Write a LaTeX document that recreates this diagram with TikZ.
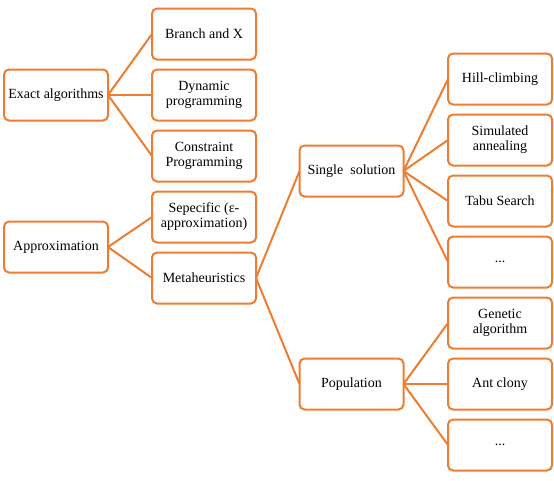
\documentclass[tikz,border=0pt]{standalone}
\usepackage{fontspec}
\setmainfont{Liberation Serif}
\usepackage{xcolor}
\usetikzlibrary{positioning}
\definecolor{treeorange}{RGB}{237,125,49}

\begin{document}
\begin{tikzpicture}[
    x=1pt,y=-1pt,
    node distance=10pt,
    box/.style={rectangle,rounded corners=5pt,draw=treeorange,fill=white,line width=2pt,
      outer sep=0pt,minimum width=104pt,minimum height=51pt,align=center,inner sep=2pt,
      font=\rmfamily\fontsize{14}{15}\selectfont},
    link/.style={draw=treeorange,line width=2pt}
  ]
    \useasboundingbox (0,0) rectangle (554,480);
    % roots
    \node[box] (exact) at (56,95) {Exact algorithms};
    \node[box] (approx) at (56,247) {Approximation};
    % second column
    \node[box,right=44pt of exact] (dynprog) {Dynamic\\programming};
    \node[box,above=of dynprog] (branch) {Branch and X};
    \node[box,below=of dynprog] (constr) {Constraint\\Programming};
    \node[box,below=of constr] (specific) {Sepecific (ε-\\approximation)};
    \node[box,below=of specific] (meta) {Metaheuristics};
    % third column
    \node[box] (single) at (351.5,171) {Single\ \ solution};
    \node[box] (popul) at (351.5,384) {Population};
    % leaves
    \node[box] (hill) at (500,79) {Hill-climbing};
    \node[box,below=of hill] (simann) {Simulated\\annealing};
    \node[box,below=of simann] (tabu) {Tabu Search};
    \node[box,below=of tabu] (moresingle) {...};
    \node[box,below=of moresingle] (genetic) {Genetic\\algorithm};
    \node[box,below=of genetic] (antcol) {Ant clony};
    \node[box,below=of antcol] (morepop) {...};

    \draw[link] (exact.east) -- (branch.west);
    \draw[link] (exact.east) -- (dynprog.west);
    \draw[link] (exact.east) -- (constr.west);
    \draw[link] (approx.east) -- (specific.west);
    \draw[link] (approx.east) -- (meta.west);
    \draw[link] (meta.east) -- (single.west);
    \draw[link] (meta.east) -- (popul.west);
    \draw[link] (single.east) -- (hill.west);
    \draw[link] (single.east) -- (simann.west);
    \draw[link] (single.east) -- (tabu.west);
    \draw[link] (single.east) -- (moresingle.west);
    \draw[link] (popul.east) -- (genetic.west);
    \draw[link] (popul.east) -- (antcol.west);
    \draw[link] (popul.east) -- (morepop.west);
  \end{tikzpicture}
\end{document}
